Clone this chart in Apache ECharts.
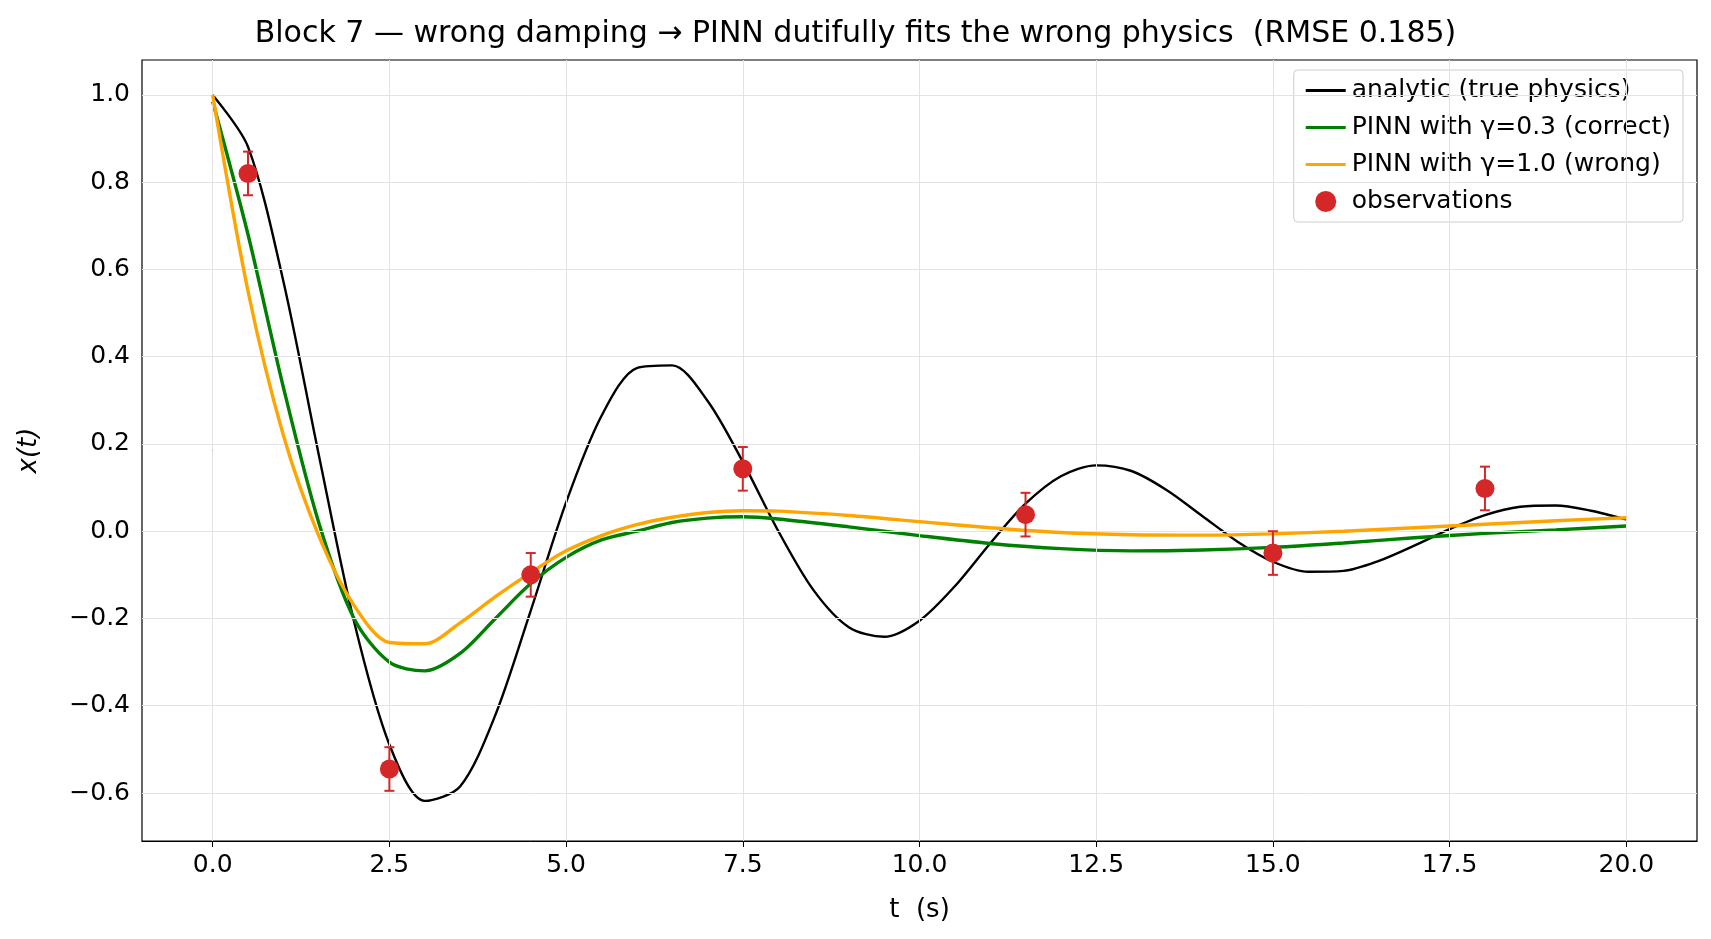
<!DOCTYPE html>
<html><head><meta charset="utf-8">
<script src="https://cdn.jsdelivr.net/npm/echarts@6/dist/echarts.min.js"></script>
<style>html,body{margin:0;background:#fff}#c{width:1711px;height:939px}</style>
</head><body><div id="c"></div>
<script>
// 数据
const tAnalytic = [0,0.5,1,1.5,2,2.5,3,3.5,4,4.5,5,5.5,6,6.5,7,7.5,8,8.5,9,9.5,10,10.5,11,11.5,12,12.5,13,13.5,14,14.5,15,15.5,16,16.5,17,17.5,18,18.5,19,19.5,20];
const xAnalytic = [1,0.881,0.573,0.176,-0.207,-0.489,-0.618,-0.585,-0.421,-0.182,0.066,0.264,0.374,0.380,0.299,0.159,0.001,-0.135,-0.220,-0.242,-0.205,-0.126,-0.028,0.063,0.126,0.151,0.138,0.094,0.035,-0.024,-0.070,-0.093,-0.091,-0.068,-0.033,0.005,0.037,0.056,0.059,0.047,0.027];
const tPinn = [0,0.5,1,1.5,2,2.5,3,3.5,4,4.5,5,5.5,6,6.5,7,7.5,8,9,10,11,12,13,14,15,16,17,18,19,20];
const xCorrect = [0.985,0.68,0.33,0.02,-0.20,-0.30,-0.32,-0.28,-0.20,-0.12,-0.06,-0.02,0.0,0.02,0.03,0.033,0.028,0.01,-0.01,-0.028,-0.04,-0.045,-0.043,-0.037,-0.027,-0.015,-0.005,0.003,0.012];
const xWrong = [1.0,0.55,0.22,-0.01,-0.17,-0.255,-0.258,-0.21,-0.15,-0.095,-0.045,-0.01,0.015,0.032,0.043,0.047,0.046,0.036,0.022,0.008,-0.003,-0.008,-0.009,-0.006,0.0,0.008,0.016,0.024,0.031];
const tObs = [0.5,2.5,4.5,7.5,11.5,15,18];
const xObs = [0.82,-0.545,-0.1,0.143,0.038,-0.05,0.098];
const errObs = [0.05,0.05,0.05,0.05,0.05,0.05,0.05];
const xTicks = [0,2.5,5,7.5,10,12.5,15,17.5,20];
const yTicks = [-0.6,-0.4,-0.2,0,0.2,0.4,0.6,0.8,1.0];

const zip = (a, b) => a.map((v, i) => [v, b[i]]);
const fmt = (v) => (v < 0 ? "\u2212" : "") + Math.abs(v).toFixed(1);
const font = "DejaVu Sans";
const lineIcon = "path://M0,0 L0,0 M0,9 L40,9 L40,12 L0,12 Z M40,21 L40,21";

const myChart = echarts.init(document.querySelector("#c"));
const option = {
  animation: false,
  textStyle: { fontFamily: font },
  title: {
    text: "Block 7 \u2014 wrong damping \u2192 PINN dutifully fits the wrong physics  (RMSE 0.185)",
    left: "center", top: 14,
    textStyle: { fontFamily: font, fontSize: 30, fontWeight: "normal", color: "#000" },
  },
  grid: { show: true, borderColor: "#000", borderWidth: 1.2, left: 142, right: 14, top: 60, bottom: 98 },
  legend: {
    right: 28, top: 70, orient: "vertical", itemGap: 12,
    itemWidth: 42, itemHeight: 21,
    backgroundColor: "#fff", borderColor: "#ccc", borderWidth: 1, borderRadius: 4,
    padding: [8, 12, 8, 12],
    textStyle: { fontFamily: font, fontSize: 25, color: "#000" },
    data: [
      { name: "analytic (true physics)", icon: lineIcon },
      { name: "PINN with \u03b3=0.3 (correct)", icon: lineIcon },
      { name: "PINN with \u03b3=1.0 (wrong)", icon: lineIcon },
      { name: "observations", icon: "circle" },
    ],
  },
  xAxis: {
    type: "value", min: -1, max: 21,
    name: "t  (s)", nameLocation: "middle", nameGap: 56,
    nameTextStyle: { fontFamily: font, fontSize: 26, color: "#000" },
    axisLine: { onZero: false, lineStyle: { color: "#000" } },
    axisTick: { customValues: xTicks, length: 6, lineStyle: { color: "#000" } },
    axisLabel: { customValues: xTicks, formatter: fmt, fontSize: 25, color: "#000", margin: 12 },
    splitLine: { show: false },
  },
  yAxis: {
    type: "value", min: -0.71, max: 1.08,
    name: "x(t)", nameLocation: "middle", nameGap: 100,
    nameTextStyle: { fontFamily: font, fontSize: 26, fontStyle: "italic", color: "#000" },
    axisLine: { show: true, lineStyle: { color: "#000" } },
    axisTick: { customValues: yTicks, length: 6, lineStyle: { color: "#000" } },
    axisLabel: { customValues: yTicks, formatter: fmt, fontSize: 25, color: "#000", margin: 12 },
    splitLine: { show: false },
  },
  series: [
    {
      name: "gridx", type: "line", data: [], silent: true,
      markLine: {
        symbol: "none", silent: true, label: { show: false },
        lineStyle: { color: "#e3e3e3", width: 1, type: "solid" },
        data: xTicks.map((v) => ({ xAxis: v })).concat(yTicks.map((v) => ({ yAxis: v }))),
      },
    },
    {
      name: "analytic (true physics)", type: "line", smooth: 0.3, showSymbol: false,
      data: zip(tAnalytic, xAnalytic), itemStyle: { color: "#000" },
      lineStyle: { color: "#000", width: 2.4 }, z: 3,
    },
    {
      name: "PINN with \u03b3=0.3 (correct)", type: "line", smooth: 0.3, showSymbol: false,
      data: zip(tPinn, xCorrect), itemStyle: { color: "#008000" },
      lineStyle: { color: "#008000", width: 3.4 }, z: 4,
    },
    {
      name: "PINN with \u03b3=1.0 (wrong)", type: "line", smooth: 0.3, showSymbol: false,
      data: zip(tPinn, xWrong), itemStyle: { color: "#ffa500" },
      lineStyle: { color: "#ffa500", width: 3.4 }, z: 5,
    },
    {
      name: "observations", type: "custom", z: 6,
      itemStyle: { color: "#d62728" },
      data: tObs.map((t, i) => [t, xObs[i] - errObs[i], xObs[i] + errObs[i]]),
      renderItem: (params, api) => {
        const lo = api.coord([api.value(0), api.value(1)]);
        const hi = api.coord([api.value(0), api.value(2)]);
        const s = { stroke: "#d62728", lineWidth: 2 };
        return {
          type: "group",
          children: [
            { type: "line", shape: { x1: lo[0], y1: lo[1], x2: hi[0], y2: hi[1] }, style: s },
            { type: "line", shape: { x1: lo[0] - 5, y1: lo[1], x2: lo[0] + 5, y2: lo[1] }, style: s },
            { type: "line", shape: { x1: hi[0] - 5, y1: hi[1], x2: hi[0] + 5, y2: hi[1] }, style: s },
          ],
        };
      },
    },
    {
      name: "observations", type: "scatter", z: 7, symbolSize: 19,
      data: zip(tObs, xObs), itemStyle: { color: "#d62728", opacity: 1 },
    },
  ],
};
myChart.setOption(option);
</script></body></html>
